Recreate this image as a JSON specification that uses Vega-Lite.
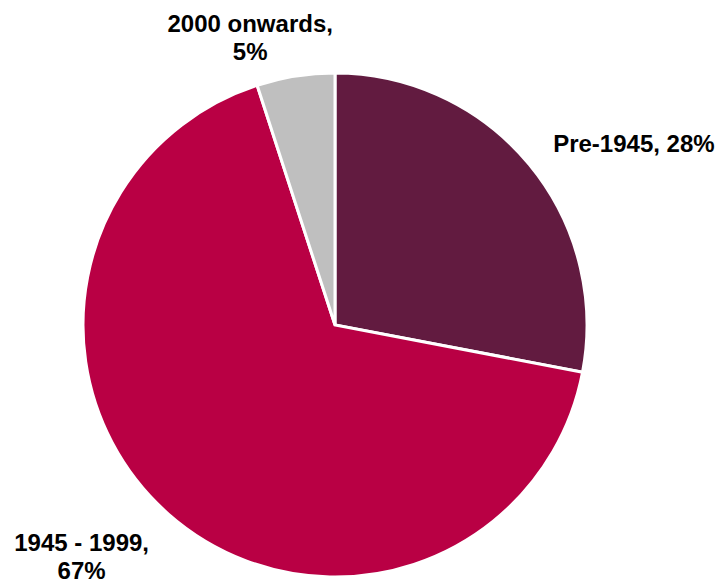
{
  "$schema": "https://vega.github.io/schema/vega-lite/v6.json",
  "autosize": {"type": "none"},
  "width": 670,
  "height": 510,
  "padding": {"left": 0, "top": 70, "right": 49, "bottom": 0},
  "background": "white",
  "config": {"view": {"stroke": null}},
  "data": {
    "values": [
      {"cat": "Pre-1945", "value": 28, "ord": 1, "label": "Pre-1945, 28%"},
      {"cat": "1945 - 1999", "value": 67, "ord": 2, "label": "1945 - 1999,\n67%"},
      {"cat": "2000 onwards", "value": 5, "ord": 3, "label": "2000 onwards,\n5%"}
    ]
  },
  "encoding": {
    "theta": {"field": "value", "type": "quantitative", "stack": true},
    "order": {"field": "ord", "type": "quantitative"}
  },
  "layer": [
    {
      "mark": {"type": "arc", "outerRadius": 252, "stroke": "white", "strokeWidth": 3},
      "encoding": {
        "color": {
          "field": "cat",
          "type": "nominal",
          "scale": {"domain": ["Pre-1945", "1945 - 1999", "2000 onwards"], "range": ["#621B40", "#B90044", "#BFBFBF"]},
          "legend": null
        }
      }
    },
    {
      "mark": {"type": "text", "radius": 300, "dx": -13, "dy": 18, "align": "left", "baseline": "alphabetic", "font": "Liberation Sans", "fontWeight": "bold", "fontSize": 24, "lineBreak": "\n", "lineHeight": 28, "color": "black"},
      "encoding": {"text": {"condition": {"test": "datum.cat === 'Pre-1945'", "field": "label"}, "value": ""}}
    },
    {
      "mark": {"type": "text", "radius": 300, "dx": -55, "dy": 1, "align": "center", "baseline": "alphabetic", "font": "Liberation Sans", "fontWeight": "bold", "fontSize": 24, "lineBreak": "\n", "lineHeight": 28, "color": "black"},
      "encoding": {"text": {"condition": {"test": "datum.cat === '1945 - 1999'", "field": "label"}, "value": ""}}
    },
    {
      "mark": {"type": "text", "radius": 280, "dx": -41, "dy": -16, "align": "center", "baseline": "alphabetic", "font": "Liberation Sans", "fontWeight": "bold", "fontSize": 24, "lineBreak": "\n", "lineHeight": 28, "color": "black"},
      "encoding": {"text": {"condition": {"test": "datum.cat === '2000 onwards'", "field": "label"}, "value": ""}}
    }
  ]
}
